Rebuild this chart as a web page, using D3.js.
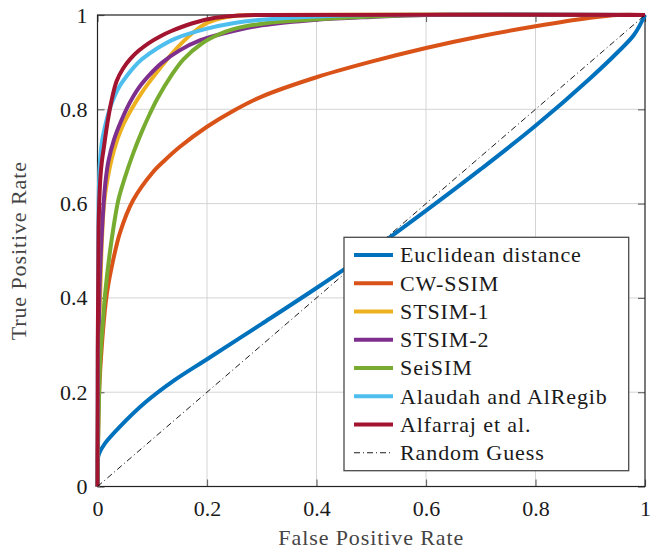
<!DOCTYPE html>
<html>
<head>
<meta charset="utf-8">
<script src="https://cdn.jsdelivr.net/npm/d3@7/dist/d3.min.js"></script>
<style>
  html, body { margin: 0; padding: 0; background: #fff; }
  svg { display: block; }
</style>
</head>
<body>
<svg id="chart" width="650" height="549"></svg>
<script>
// ROC curves: false positive rate (x) vs true positive rate (y)
const seriesNames = [
  "Euclidean distance", "CW-SSIM", "STSIM-1", "STSIM-2",
  "SeiSIM", "Alaudah and AlRegib", "Alfarraj et al."
];
const seriesColors = ["#0072BD", "#D95319", "#EDB120", "#7E2F8E", "#77AC30", "#4DBEEE", "#A2142F"];

const fprEuclidean = [0, 0.003, 0.014, 0.041, 0.087, 0.14, 0.2, 0.3, 0.4, 0.5, 0.6, 0.7, 0.8, 0.9, 0.95, 0.98, 1];
const tprEuclidean = [0.055, 0.07, 0.092, 0.127, 0.178, 0.225, 0.27, 0.345, 0.421, 0.5, 0.585, 0.673, 0.765, 0.866, 0.921, 0.958, 1];

const fprCwssim = [0, 0.003, 0.008, 0.015, 0.02, 0.026, 0.041, 0.065, 0.1, 0.123, 0.15, 0.2, 0.25, 0.3, 0.4, 0.5, 0.6, 0.7, 0.8, 0.9, 0.95, 1];
const tprCwssim = [0, 0.2, 0.3, 0.39, 0.43, 0.466, 0.538, 0.607, 0.665, 0.692, 0.72, 0.763, 0.798, 0.827, 0.868, 0.901, 0.93, 0.955, 0.976, 0.994, 1, 1];

const fprStsim1 = [0, 0.002, 0.005, 0.008, 0.012, 0.018, 0.026, 0.036, 0.048, 0.062, 0.08, 0.102, 0.123, 0.151, 0.178, 0.2, 0.225, 0.25, 0.3, 1];
const tprStsim1 = [0, 0.3, 0.41, 0.52, 0.6, 0.65, 0.695, 0.735, 0.77, 0.8, 0.834, 0.869, 0.9, 0.937, 0.966, 0.983, 0.993, 0.998, 1, 1];

const fprStsim2 = [0, 0.002, 0.004, 0.009, 0.014, 0.02, 0.03, 0.042, 0.058, 0.075, 0.095, 0.117, 0.15, 0.187, 0.248, 0.3, 0.4, 0.5, 0.6, 1];
const tprStsim2 = [0, 0.3, 0.43, 0.56, 0.64, 0.69, 0.735, 0.772, 0.812, 0.845, 0.873, 0.898, 0.925, 0.946, 0.966, 0.978, 0.99, 0.996, 1, 1];

const fprSeisim = [0, 0.002, 0.005, 0.01, 0.014, 0.023, 0.038, 0.05, 0.065, 0.08, 0.095, 0.11, 0.135, 0.157, 0.19, 0.22, 0.248, 0.31, 0.4, 0.5, 0.6, 1];
const tprSeisim = [0, 0.15, 0.27, 0.35, 0.41, 0.5, 0.607, 0.655, 0.706, 0.75, 0.789, 0.824, 0.872, 0.906, 0.939, 0.958, 0.97, 0.983, 0.991, 0.997, 1, 1];

const fprAlaudah = [0, 0.001, 0.002, 0.004, 0.008, 0.014, 0.022, 0.032, 0.042, 0.053, 0.067, 0.081, 0.11, 0.142, 0.2, 0.25, 0.3, 0.4, 0.5, 1];
const tprAlaudah = [0, 0.4, 0.6, 0.68, 0.73, 0.765, 0.8, 0.83, 0.852, 0.87, 0.89, 0.906, 0.93, 0.95, 0.971, 0.983, 0.99, 0.997, 1, 1];

const fprAlfarraj = [0, 0.002, 0.005, 0.008, 0.011, 0.018, 0.025, 0.035, 0.047, 0.06, 0.075, 0.093, 0.115, 0.135, 0.172, 0.215, 0.26, 0.3, 1];
const tprAlfarraj = [0, 0.55, 0.65, 0.69, 0.714, 0.77, 0.815, 0.86, 0.887, 0.907, 0.924, 0.94, 0.955, 0.966, 0.982, 0.994, 0.999, 1, 1];

const fprRandom = [0, 1];
const tprRandom = [0, 1];

const tickValues = [0, 0.2, 0.4, 0.6, 0.8, 1];
const tickLabels = ["0", "0.2", "0.4", "0.6", "0.8", "1"];
const xTitle = "False Positive Rate";
const yTitle = "True Positive Rate";
const randomName = "Random Guess";

const fprAll = [fprEuclidean, fprCwssim, fprStsim1, fprStsim2, fprSeisim, fprAlaudah, fprAlfarraj];
const tprAll = [tprEuclidean, tprCwssim, tprStsim1, tprStsim2, tprSeisim, tprAlaudah, tprAlfarraj];

const serifFont = '"Liberation Serif", "DejaVu Serif", serif';

const svg = d3.select("#chart");
const plot = { left: 97.5, right: 645, top: 15, bottom: 486.5 };

const x = d3.scaleLinear().domain([0, 1]).range([plot.left, plot.right]);
const y = d3.scaleLinear().domain([0, 1]).range([plot.bottom, plot.top]);

// grid
const grid = svg.append("g");
grid.selectAll("line.gx").data(tickValues.slice(1, -1)).join("line")
  .attr("x1", d => x(d)).attr("x2", d => x(d))
  .attr("y1", plot.top).attr("y2", plot.bottom)
  .attr("stroke", "#d4d4d4").attr("stroke-width", 1);
grid.selectAll("line.gy").data(tickValues.slice(1, -1)).join("line")
  .attr("y1", d => y(d)).attr("y2", d => y(d))
  .attr("x1", plot.left).attr("x2", plot.right)
  .attr("stroke", "#d4d4d4").attr("stroke-width", 1);

// inward ticks on all four sides
const tickLen = 7;
const axisStyle = g => {
  g.attr("font-family", null).attr("font-size", null);
  g.select(".domain").remove();
  g.selectAll(".tick line").attr("stroke", "#6a6a6a").attr("stroke-width", 1.2);
  g.selectAll(".tick text").attr("fill", "#1a1a1a")
    .style("font-family", serifFont).style("font-size", "22px");
};
svg.append("g").attr("transform", `translate(0,${plot.bottom})`)
  .call(d3.axisBottom(x).tickValues(tickValues).tickFormat((d, i) => tickLabels[i])
    .tickSizeInner(-tickLen).tickSizeOuter(0).tickPadding(14))
  .call(axisStyle);
svg.append("g").attr("transform", `translate(0,${plot.top})`)
  .call(d3.axisTop(x).tickValues(tickValues).tickFormat("").tickSizeInner(-tickLen).tickSizeOuter(0))
  .call(axisStyle);
svg.append("g").attr("transform", `translate(${plot.left},0)`)
  .call(d3.axisLeft(y).tickValues(tickValues).tickFormat((d, i) => tickLabels[i])
    .tickSizeInner(-tickLen).tickSizeOuter(0).tickPadding(10))
  .call(axisStyle);
svg.append("g").attr("transform", `translate(${plot.right},0)`)
  .call(d3.axisRight(y).tickValues(tickValues).tickFormat("").tickSizeInner(-tickLen).tickSizeOuter(0))
  .call(axisStyle);

// frame
svg.append("rect")
  .attr("x", plot.left).attr("y", plot.top)
  .attr("width", plot.right - plot.left).attr("height", plot.bottom - plot.top)
  .attr("fill", "none").attr("stroke", "#222").attr("stroke-width", 1.2);

// ROC curves
const line = d3.line().x(d => x(d[0])).y(d => y(d[1])).curve(d3.curveCatmullRom.alpha(0.5));
const curves = svg.append("g");
seriesNames.forEach((name, i) => {
  const pts = fprAll[i].map((f, k) => [f, tprAll[i][k]]);
  curves.append("path")
    .datum(pts)
    .attr("d", line)
    .attr("fill", "none")
    .attr("stroke", seriesColors[i])
    .attr("stroke-width", 4)
    .attr("stroke-linejoin", "round");
});

// chance diagonal
const dashPattern = "6 3 1 3";
curves.append("path")
  .datum(fprRandom.map((f, k) => [f, tprRandom[k]]))
  .attr("d", d3.line().x(d => x(d[0])).y(d => y(d[1])))
  .attr("fill", "none").attr("stroke", "#000").attr("stroke-width", 0.9)
  .attr("stroke-dasharray", dashPattern);

// legend
const legend = svg.append("g");
const lg = { x: 344, y: 237.3, w: 284.7, h: 233.4, row: 28.25, first: 255 };
legend.append("rect")
  .attr("x", lg.x).attr("y", lg.y).attr("width", lg.w).attr("height", lg.h)
  .attr("fill", "#fff").attr("stroke", "#4a4a4a").attr("stroke-width", 1.3);

const legendItems = seriesNames.map((n, i) => ({ name: n, color: seriesColors[i], dash: null, width: 4 }))
  .concat([{ name: randomName, color: "#000", dash: dashPattern, width: 0.9 }]);

legendItems.forEach((it, i) => {
  const cy = lg.first + i * lg.row;
  legend.append("line")
    .attr("x1", 354).attr("x2", 393).attr("y1", cy).attr("y2", cy)
    .attr("stroke", it.color).attr("stroke-width", it.width)
    .attr("stroke-dasharray", it.dash);
  legend.append("text")
    .attr("x", 400).attr("y", cy + 7.3)
    .attr("fill", "#1a1a1a")
    .style("font-family", serifFont)
    .style("font-size", "22px").style("letter-spacing", "0.9px")
    .text(it.name);
});

// axis titles
svg.append("text")
  .attr("x", (plot.left + plot.right) / 2).attr("y", 545)
  .attr("text-anchor", "middle").attr("fill", "#444")
  .style("font-family", serifFont)
  .style("font-size", "22px").style("letter-spacing", "0.9px")
  .text(xTitle);
svg.append("text")
  .attr("transform", `translate(26,${(plot.top + plot.bottom) / 2}) rotate(-90)`)
  .attr("text-anchor", "middle").attr("fill", "#444")
  .style("font-family", serifFont)
  .style("font-size", "22px").style("letter-spacing", "0.9px")
  .text(yTitle);
</script>
</body>
</html>
